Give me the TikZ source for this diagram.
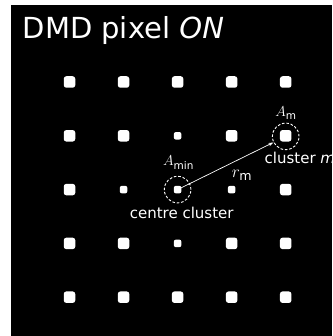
\documentclass[tikz,border=0pt]{standalone}
\usepackage{fontspec}
\setmainfont{DejaVu Sans}
\usetikzlibrary{arrows.meta}
\tikzset{
  bigdot/.style={fill=white, draw=none, rectangle, rounded corners=2.6pt, minimum size=11.5pt, inner sep=0pt},
  smalldot/.style={fill=white, draw=none, rectangle, rounded corners=2pt, minimum size=7.5pt, inner sep=0pt},
  ring/.style={draw=white, dashed, dash pattern=on 2.6pt off 1.8pt, line width=0.9pt, circle, minimum size=26.6pt, inner sep=0pt},
  lbl/.style={text=white, inner sep=0pt},
  mlbl/.style={text=white, inner sep=0pt, font=\fontsize{15}{18}\selectfont},
}
\begin{document}
\begin{tikzpicture}[x=1pt,y=-1pt]
\useasboundingbox (0,0) rectangle (332,336);
\fill[white] (0,0) rectangle (332,336);
\fill[black] (11,5) rectangle (332,336);
\clip (0,0) rectangle (332,336);
% title
\node[lbl, anchor=base west, font=\fontsize{29}{34}\selectfont] (title) at (22.5,39) {DMD pixel \textit{ON}};
% dots
\foreach \i in {0,...,4}{
  \foreach \j in {0,...,4}{
    \pgfmathsetmacro{\xx}{69.5+54.05*\i}
    \pgfmathsetmacro{\yy}{82+53.8*\j}
    \node[bigdot] (d-\i-\j) at (\xx,\yy) {};
  }
}
% small dots overwrite
\foreach \i/\j in {2/1,1/2,3/2,2/3}{
  \pgfmathsetmacro{\xx}{69.5+54.05*\i}
  \pgfmathsetmacro{\yy}{82+53.8*\j}
  \fill[black] (\xx-7,\yy-7) rectangle (\xx+7,\yy+7);
  \node[smalldot] (s-\i-\j) at (\xx,\yy) {};
}
% centre dot
\fill[black] (170,183) rectangle (184,197);
\node[smalldot] (c0) at (177.6,189.6) {};
% rings
\node[ring] (rc) at (177.6,189.6) {};
\node[ring] (rm) at (285.7,136.4) {};
% arrow
\draw[white, line width=0.7pt, -{Stealth[length=5pt,width=3.5pt]}] (c0.center) -- (rm);
% labels
\node[mlbl, anchor=base] (amin) at (178.5,166) {$A_{\mathrm{min}}$};
\node[mlbl, anchor=base] (am) at (286,117) {$A_{\mathrm{m}}$};
\node[lbl, anchor=base, font=\fontsize{18}{20}\selectfont] (rmlbl) at (242,178) {$r_{\mathrm{m}}$};
\node[lbl, anchor=base, font=\fontsize{15}{18}\selectfont] (cc) at (181.7,218.5) {centre cluster};
\node[lbl, anchor=base west, font=\fontsize{15}{18}\selectfont] (cmlbl) at (264.5,164) {cluster \textit{m}};
\end{tikzpicture}
\end{document}
